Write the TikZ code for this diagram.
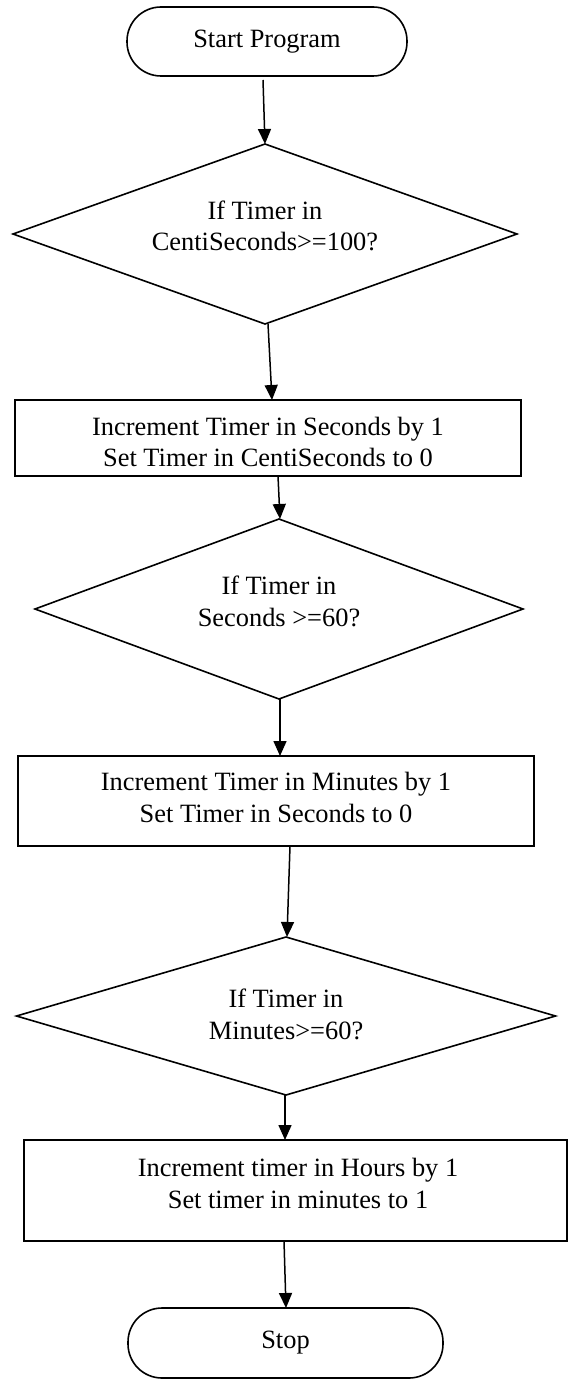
\documentclass[tikz,border=0pt]{standalone}
\usepackage{fontspec}
\setmainfont{Liberation Serif}
\usetikzlibrary{shapes.geometric,arrows.meta}
\begin{document}
\begin{tikzpicture}[x=1pt,y=-1pt,
  every node/.style={inner sep=0pt,outer sep=0pt},
  term/.style={draw,line width=1.6pt,rounded corners=34pt},
  procbox/.style={draw,line width=1.6pt,rectangle},
  decision/.style={draw,line width=1.6pt,diamond},
  txt/.style={font=\fontsize{26.4}{31.5}\selectfont,align=center},
  flow/.style={line width=1.5pt,-{Triangle[length=15pt,width=13pt]}}]
\useasboundingbox (0,0) rectangle (569,1380);

\node[term,minimum width=280pt,minimum height=69pt,txt] (start) at (267,41.5) {Start Program};

\node[decision,minimum width=504pt,minimum height=180pt] (d1) at (265,234) {};
\node[txt] (d1t) at (265,226) {If Timer in\\CentiSeconds>=100?};

\node[procbox,minimum width=506pt,minimum height=76pt] (b1) at (268,438) {};
\node[txt] (b1t) at (268,442) {Increment Timer in Seconds by 1\\Set Timer in CentiSeconds to 0};

\node[decision,minimum width=488pt,minimum height=180pt] (d2) at (279,609) {};
\node[txt] (d2t) at (279,601.5) {If Timer in\\Seconds >=60?};

\node[procbox,minimum width=516pt,minimum height=90pt] (b2) at (276,801) {};
\node[txt] (b2t) at (276,797.5) {Increment Timer in Minutes by 1\\Set Timer in Seconds to 0};

\node[decision,minimum width=539pt,minimum height=158pt] (d3) at (286,1016) {};
\node[txt] (d3t) at (286,1014.5) {If Timer in\\Minutes>=60?};

\node[procbox,minimum width=543pt,minimum height=101pt] (b3) at (295.5,1190.5) {};
\node[txt] (b3t) at (298,1183.5) {Increment timer in Hours by 1\\Set timer in minutes to 1};

\node[term,minimum width=315pt,minimum height=70pt,txt] (stop) at (285.5,1343) {Stop};

\draw[flow] ([xshift=-4pt,yshift=-4pt]start.south) -- (d1.north);
\draw[flow] ([xshift=3pt]d1.south) -- ([xshift=4pt]b1.north);
\draw[flow] ([xshift=10pt]b1.south) -- ([xshift=1pt]d2.north);
\draw[flow] ([xshift=1pt]d2.south) -- ([xshift=4pt]b2.north);
\draw[flow] ([xshift=14pt]b2.south) -- ([xshift=1pt]d3.north);
\draw[flow] ([xshift=-1pt]d3.south) -- ([xshift=-10.5pt]b3.north);
\draw[flow] ([xshift=-11.5pt]b3.south) -- ([xshift=0.5pt]stop.north);
\end{tikzpicture}
\end{document}
